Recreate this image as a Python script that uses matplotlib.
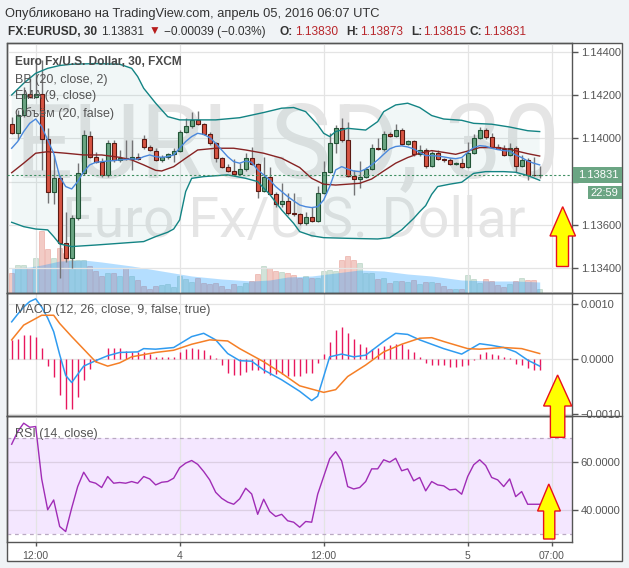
import matplotlib
matplotlib.use('Agg')
import matplotlib.pyplot as plt
from matplotlib.patches import Rectangle, Polygon
from matplotlib.lines import Line2D
import numpy as np

W, H, DPI = 629, 568, 100
plt.rcParams['font.family'] = ['Liberation Sans', 'DejaVu Sans']

# ---- FX:EURUSD 30 min bars ----
opens = [1.14066, 1.14023, 1.14108, 1.14203, 1.14192, 1.14203, 1.13995, 1.13754, 1.13818, 1.13515,
         1.13446, 1.13630, 1.13841, 1.14012, 1.13915, 1.13892, 1.13831, 1.13977, 1.13900, 1.13908,
         1.13905, 1.13915, 1.13995, 1.13958, 1.13943, 1.13900, 1.13915, 1.13926, 1.13943, 1.14031,
         1.14057, 1.14085, 1.14066, 1.14020, 1.13977, 1.13908, 1.13869, 1.13849, 1.13835, 1.13857,
         1.13908, 1.13880, 1.13757, 1.13823, 1.13743, 1.13697, 1.13709, 1.13654, 1.13649, 1.13607,
         1.13635, 1.13620, 1.13746, 1.13843, 1.13977, 1.14046, 1.13992, 1.13826, 1.13811, 1.13820,
         1.13857, 1.13954, 1.13949, 1.14018, 1.14012, 1.14038, 1.13972, 1.13988, 1.13926, 1.13946,
         1.13872, 1.13931, 1.13903, 1.13898, 1.13881, 1.13886, 1.13868, 1.13931, 1.14000, 1.14037,
         1.14008, 1.13958, 1.13952, 1.13923, 1.13957, 1.13874, 1.13900, 1.13831, 1.13830]
highs = [1.14100, 1.14131, 1.14239, 1.14277, 1.14370, 1.14362, 1.14046, 1.13923, 1.13831, 1.13661,
         1.13646, 1.13885, 1.14038, 1.14034, 1.13938, 1.13908, 1.13992, 1.13992, 1.13946, 1.13992,
         1.13992, 1.13931, 1.14015, 1.13969, 1.13954, 1.13923, 1.13931, 1.13954, 1.14038, 1.14092,
         1.14123, 1.14126, 1.14072, 1.14028, 1.13985, 1.13915, 1.13880, 1.13903, 1.13885, 1.13931,
         1.13958, 1.13885, 1.13915, 1.13866, 1.13754, 1.13795, 1.13746, 1.13746, 1.13654, 1.13661,
         1.13684, 1.13780, 1.13895, 1.14023, 1.14062, 1.14092, 1.14077, 1.13854, 1.13895, 1.13869,
         1.13974, 1.14000, 1.14035, 1.14028, 1.14065, 1.14046, 1.13992, 1.13992, 1.13969, 1.13954,
         1.13941, 1.13946, 1.13911, 1.13908, 1.13892, 1.13908, 1.13985, 1.14020, 1.14054, 1.14046,
         1.14023, 1.13972, 1.13969, 1.13977, 1.13965, 1.13923, 1.13908, 1.13915, 1.13873]
lows = [1.14018, 1.13992, 1.14100, 1.14185, 1.14185, 1.13854, 1.13700, 1.13695, 1.13353, 1.13430,
        1.13400, 1.13623, 1.13831, 1.13908, 1.13885, 1.13823, 1.13823, 1.13892, 1.13892, 1.13900,
        1.13854, 1.13900, 1.13952, 1.13941, 1.13895, 1.13889, 1.13905, 1.13892, 1.13938, 1.14023,
        1.14049, 1.14062, 1.14015, 1.13969, 1.13892, 1.13865, 1.13846, 1.13831, 1.13831, 1.13849,
        1.13877, 1.13723, 1.13751, 1.13738, 1.13684, 1.13684, 1.13646, 1.13643, 1.13600, 1.13600,
        1.13615, 1.13615, 1.13741, 1.13838, 1.13934, 1.13985, 1.13823, 1.13738, 1.13772, 1.13815,
        1.13852, 1.13945, 1.13941, 1.14008, 1.14006, 1.13969, 1.13969, 1.13920, 1.13920, 1.13861,
        1.13866, 1.13898, 1.13892, 1.13877, 1.13877, 1.13861, 1.13865, 1.13926, 1.13995, 1.13997,
        1.13954, 1.13949, 1.13920, 1.13917, 1.13846, 1.13866, 1.13808, 1.13828, 1.13815]
closes = [1.14023, 1.14108, 1.14203, 1.14192, 1.14203, 1.13995, 1.13754, 1.13818, 1.13515, 1.13446,
          1.13630, 1.13841, 1.14015, 1.13915, 1.13892, 1.13831, 1.13977, 1.13900, 1.13908, 1.13905,
          1.13915, 1.13903, 1.13958, 1.13946, 1.13900, 1.13915, 1.13926, 1.13943, 1.14031, 1.14057,
          1.14085, 1.14066, 1.14020, 1.13977, 1.13908, 1.13869, 1.13849, 1.13835, 1.13857, 1.13908,
          1.13880, 1.13757, 1.13823, 1.13743, 1.13697, 1.13709, 1.13654, 1.13649, 1.13607, 1.13635,
          1.13620, 1.13746, 1.13843, 1.13977, 1.14046, 1.13992, 1.13826, 1.13811, 1.13820, 1.13857,
          1.13954, 1.13949, 1.14018, 1.14012, 1.14038, 1.13972, 1.13988, 1.13926, 1.13946, 1.13872,
          1.13931, 1.13903, 1.13898, 1.13881, 1.13886, 1.13868, 1.13931, 1.14000, 1.14037, 1.14008,
          1.13958, 1.13952, 1.13923, 1.13957, 1.13874, 1.13900, 1.13831, 1.13829, 1.13831]

# tick volume (chart units)
volume = [20, 28, 28, 25, 35, 62, 44, 35, 45, 40,
          33, 33, 33, 27, 22, 17, 20, 20, 17, 25,
          17, 13, 7, 4, 7, 8, 9, 6, 17, 14,
          11, 15, 10, 9, 10, 7, 4, 9, 7, 10,
          12, 19, 27, 25, 22, 21, 20, 18, 15, 17,
          15, 15, 22, 23, 22, 33, 37, 33, 30, 20,
          20, 14, 15, 10, 12, 12, 11, 13, 9, 11,
          11, 10, 7, 4, 4, 4, 18, 14, 10, 14,
          12, 8, 6, 9, 12, 15, 13, 13, 4]
vol_ma_idx = [0, 3, 5, 8, 12, 15, 20, 25, 30, 35, 40, 43, 46, 50, 54, 58, 62, 66, 70, 75, 80, 84, 88]
vol_ma = [25, 26, 28, 32, 33, 31, 27, 22, 17, 14, 12, 13, 16, 17, 20, 23, 22, 19, 17, 13, 12, 12, 11]

# Bollinger bands (20, close, 2)
bb_up_idx = [0, 2, 4, 6, 8, 10, 14, 18, 20, 21, 22, 24, 26, 28, 34, 38, 42, 45, 47, 49, 51, 52, 53,
             54, 56, 59, 61, 62, 64, 66, 68, 70, 72, 75, 77, 80, 83, 86, 88]
bb_up = [1.14200, 1.14254, 1.14300, 1.14323, 1.14336, 1.14342, 1.14345, 1.14342, 1.14323, 1.14285,
         1.14231, 1.14162, 1.14100, 1.14085, 1.14085, 1.14095, 1.14119, 1.14139, 1.14142, 1.14123,
         1.14062, 1.14023, 1.14008, 1.14031, 1.14046, 1.14038, 1.14077, 1.14123, 1.14154, 1.14162,
         1.14142, 1.14105, 1.14089, 1.14083, 1.14069, 1.14065, 1.14052, 1.14035, 1.14031]
bb_lo_idx = [0, 2, 4, 6, 7, 8, 10, 14, 18, 22, 24, 26, 27, 28, 29, 30, 32, 36, 39, 41, 43, 45, 47,
             48, 50, 52, 56, 61, 63, 65, 67, 68, 69, 70, 71, 73, 75, 77, 79, 82, 84, 86, 88]
bb_lo = [1.13612, 1.13592, 1.13581, 1.13577, 1.13546, 1.13512, 1.13500, 1.13507, 1.13515, 1.13523,
         1.13546, 1.13566, 1.13581, 1.13623, 1.13754, 1.13815, 1.13823, 1.13831, 1.13815, 1.13800,
         1.13741, 1.13669, 1.13607, 1.13569, 1.13550, 1.13541, 1.13538, 1.13535, 1.13541, 1.13577,
         1.13630, 1.13661, 1.13689, 1.13741, 1.13777, 1.13788, 1.13797, 1.13838, 1.13846, 1.13846,
         1.13843, 1.13828, 1.13806]
bb_mid_idx = [0, 2, 4, 6, 9, 12, 15, 18, 20, 22, 24, 25, 27, 29, 31, 34, 37, 39, 42, 45, 48, 50, 52,
              54, 56, 58, 60, 62, 64, 66, 68, 70, 72, 74, 76, 78, 81, 83, 86, 88]
bb_mid = [1.13841, 1.13885, 1.13931, 1.13938, 1.13931, 1.13923, 1.13923, 1.13912, 1.13900, 1.13877,
          1.13852, 1.13849, 1.13869, 1.13908, 1.13946, 1.13954, 1.13954, 1.13946, 1.13931, 1.13908,
          1.13865, 1.13815, 1.13788, 1.13784, 1.13788, 1.13792, 1.13812, 1.13849, 1.13885, 1.13911,
          1.13931, 1.13943, 1.13935, 1.13926, 1.13941, 1.13957, 1.13957, 1.13949, 1.13929, 1.13918]

# EMA (9, close), one value per bar
ema = [1.13954, 1.13985, 1.14031, 1.14069, 1.14089, 1.14054, 1.13992, 1.13931, 1.13823, 1.13777,
       1.13766, 1.13800, 1.13846, 1.13877, 1.13889, 1.13892, 1.13895, 1.13897, 1.13900, 1.13902,
       1.13905, 1.13903, 1.13915, 1.13923, 1.13915, 1.13912, 1.13915, 1.13923, 1.13954, 1.13985,
       1.14008, 1.14023, 1.14018, 1.14003, 1.13977, 1.13946, 1.13915, 1.13892, 1.13885, 1.13895,
       1.13889, 1.13854, 1.13831, 1.13808, 1.13777, 1.13754, 1.13731, 1.13711, 1.13692, 1.13684,
       1.13680, 1.13684, 1.13715, 1.13777, 1.13854, 1.13869, 1.13858, 1.13849, 1.13846, 1.13858,
       1.13877, 1.13900, 1.13926, 1.13951, 1.13962, 1.13965, 1.13960, 1.13951, 1.13935, 1.13920,
       1.13920, 1.13918, 1.13914, 1.13909, 1.13906, 1.13911, 1.13935, 1.13957, 1.13966, 1.13963,
       1.13954, 1.13948, 1.13943, 1.13941, 1.13923, 1.13911, 1.13895, 1.13885, 1.13877]

# MACD (12, 26, close, 9)
macd_idx = [0, 1, 2, 3, 4, 5, 6, 7, 8, 9, 10, 12, 14, 16, 18, 21, 22, 24, 27, 30, 32, 34, 36, 38, 40,
            42, 45, 48, 50, 51, 53, 55, 57, 59, 62, 64, 66, 68, 72, 75, 78, 80, 82, 84, 86, 88]
macd = [0.00068, 0.00082, 0.00095, 0.00105, 0.00110, 0.00095, 0.00075, 0.00050, 0.00008, -0.00030,
        -0.00043, -0.00013, -0.00003, 0.00006, 0.00012, 0.00013, 0.00019, 0.00018, 0.00021, 0.00041,
        0.00047, 0.00035, 0.00010, -0.00003, -0.00004, -0.00020, -0.00038, -0.00059, -0.00076, -0.00068,
        0.00004, 0.00009, 0.00004, 0.00007, 0.00032, 0.00047, 0.00045, 0.00035, 0.00019, 0.00009,
        0.00028, 0.00025, 0.00021, 0.00013, -0.00002, -0.00013]
signal_idx = [0, 2, 5, 7, 8, 10, 12, 14, 16, 18, 20, 24, 27, 30, 33, 36, 38, 42, 45, 48, 52, 54, 56,
              59, 62, 65, 68, 70, 72, 76, 78, 82, 85, 88]
signal = [0.00035, 0.00062, 0.00080, 0.00080, 0.00065, 0.00041, 0.00018, -0.00005, -0.00013, -0.00007,
          0.00004, 0.00012, 0.00016, 0.00027, 0.00035, 0.00033, 0.00019, -0.00005, -0.00026, -0.00049,
          -0.00061, -0.00056, -0.00032, -0.00011, 0.00013, 0.00027, 0.00038, 0.00039, 0.00032, 0.00019,
          0.00018, 0.00021, 0.00019, 0.00010]
hist = [0.00035, 0.00036, 0.00044, 0.00044, 0.00041, 0.00021, -0.00012, -0.00032, -0.00065, -0.00092,
        -0.00092, -0.00070, -0.00038, -0.00018, -0.00005, 0.00000, 0.00021, 0.00021, 0.00021, 0.00015,
        0.00012, 0.00013, 0.00012, 0.00010, 0.00004, 0.00003, 0.00003, 0.00004, 0.00012, 0.00018,
        0.00021, 0.00019, 0.00016, 0.00007, 0.00001, -0.00011, -0.00025, -0.00029, -0.00029, -0.00023,
        -0.00020, -0.00020, -0.00026, -0.00029, -0.00027, -0.00027, -0.00031, -0.00031, -0.00031, -0.00026,
        -0.00025, -0.00008, 0.00010, 0.00032, 0.00053, 0.00059, 0.00048, 0.00036, 0.00027, 0.00022,
        0.00018, 0.00021, 0.00024, 0.00025, 0.00028, 0.00028, 0.00019, 0.00012, 0.00004, -0.00007,
        -0.00011, -0.00011, -0.00011, -0.00015, -0.00015, -0.00013, -0.00011, -0.00002, 0.00009, 0.00012,
        0.00009, 0.00007, 0.00004, 0.00001, -0.00009, -0.00011, -0.00017, -0.00020, -0.00020]

# RSI (14, close)
rsi = [67.5, 72.8, 76.3, 74.6, 74.9, 53.0, 40.1, 44.2, 33.1, 31.0,
       40.8, 49.8, 55.8, 51.9, 51.2, 49.4, 54.0, 51.2, 51.5, 51.2,
       51.9, 51.2, 54.0, 53.0, 50.5, 51.6, 51.9, 53.3, 57.7, 59.6,
       60.7, 59.1, 56.1, 52.6, 47.4, 44.9, 43.3, 42.4, 44.7, 49.1,
       46.7, 38.2, 44.5, 39.4, 37.3, 38.2, 35.5, 34.9, 32.8, 35.2,
       34.9, 46.6, 54.0, 61.4, 64.4, 60.5, 49.8, 48.8, 49.4, 51.9,
       57.2, 57.2, 61.0, 60.0, 61.6, 56.4, 57.2, 52.2, 53.6, 48.0,
       51.9, 50.5, 50.1, 48.4, 48.7, 46.6, 54.0, 58.9, 61.0, 58.6,
       53.6, 52.6, 49.8, 53.0, 45.6, 47.7, 42.4, 42.4, 42.4]

# time axis: bar index of each label
time_tick_idx = [4, 28, 52, 76, 90]
time_tick_lbl = ['12:00', '4', '12:00', '5', '07:00']
price_ticks = [1.134, 1.136, 1.138, 1.140, 1.142, 1.144]
macd_ticks = [-0.001, 0.0, 0.001]
rsi_ticks = [40, 60]

UP, UP_EDGE = '#6ba583', '#225437'
DOWN, DOWN_EDGE = '#d75442', '#5b1a13'
WICK = '#737375'
AXC = '#555555'
GRID = '#e4e4e4'
XLIM = (-0.83, 93.47)


def fig_rect(x0, y0, x1, y1):
    # pixel box measured from the top-left -> figure fraction
    return [x0 / W, 1 - y1 / H, (x1 - x0) / W, (y1 - y0) / H]


def fx(x):
    return x / W


def fy(y):
    return 1 - y / H


def style_panel(ax):
    ax.set_xlim(*XLIM)
    ax.set_facecolor('none')
    for s in ax.spines.values():
        s.set_color(AXC)
        s.set_linewidth(1)
    ax.yaxis.tick_right()
    ax.tick_params(axis='y', direction='out', length=4, width=1, color=AXC,
                   labelsize=8, labelcolor=AXC, pad=2)
    ax.set_xticks(time_tick_idx)
    ax.grid(True, color=GRID, lw=0.9)
    ax.set_axisbelow(True)


def draw_candles(ax):
    x = np.arange(len(closes))
    o, h, l, c = (np.array(v) for v in (opens, highs, lows, closes))
    up = c >= o
    ax.vlines(x, l, h, color=WICK, lw=1, zorder=3)
    lo = np.minimum(o, c)
    bh = np.maximum(np.abs(c - o), 0.00001)
    ax.bar(x[up], bh[up], bottom=lo[up], width=0.72, color=UP, edgecolor=UP_EDGE, lw=0.8, zorder=4)
    ax.bar(x[~up], bh[~up], bottom=lo[~up], width=0.72, color=DOWN, edgecolor=DOWN_EDGE, lw=0.8, zorder=4)


fig = plt.figure(figsize=(W / DPI, H / DPI), dpi=DPI, facecolor='#f0f3f6')

# outer white frame
fig.patches.append(Rectangle((fx(6.7), fy(561)), fx(622) - fx(6.7), fy(43) - fy(561),
                             transform=fig.transFigure, fc='white', ec=AXC, lw=1, zorder=-5))

# ---------------- main price panel ----------------
axv = fig.add_axes(fig_rect(6.7, 43, 572.5, 293))
ax = fig.add_axes(fig_rect(6.7, 43, 572.5, 293), sharex=axv)
axv.set_zorder(1)
ax.set_zorder(2)
axv.patch.set_visible(False)
for s in axv.spines.values():
    s.set_visible(False)
axv.set_ylim(0, 250)
xs = np.arange(len(volume))
vol_col = [UP if c >= o else DOWN for o, c in zip(opens, closes)]
axv.bar(xs, volume, width=0.85, color=vol_col, alpha=0.3, edgecolor=vol_col, lw=0.6)
axv.fill_between(vol_ma_idx, 0, vol_ma, color='#1e9bff', alpha=0.33, lw=0)

style_panel(ax)
ax.set_ylim(1.132855, 1.14440)
ax.set_yticks(price_ticks)
# the 1.13800 label sits under the last-price tag, so it is left blank
ax.set_yticklabels(['' if abs(p - 1.138) < 1e-9 else '%.5f' % p for p in price_ticks])
ax.tick_params(axis='x', length=0, labelbottom=False)
# volume axis shares x: keep its ticks and labels hidden
axv.tick_params(axis='both', length=0, labelbottom=False, labelleft=False,
                labelright=False, left=False, right=False, bottom=False)

# watermark
ax.text(0.497, 0.464, 'EURUSD, 30', transform=ax.transAxes, ha='center', va='baseline',
        fontsize=74, family='Roboto', color='black', alpha=0.1, zorder=0)
ax.text(0.507, 0.224, 'Euro Fx/U.S. Dollar', transform=ax.transAxes, ha='center', va='baseline',
        fontsize=40, family='Roboto', color='black', alpha=0.1, zorder=0)

ax.fill(np.r_[bb_up_idx, bb_lo_idx[::-1]], np.r_[bb_up, bb_lo[::-1]],
        color='#198787', alpha=0.06, lw=0, zorder=1)
draw_candles(ax)
ax.plot(bb_up_idx, bb_up, color='#138484', lw=1, zorder=5)
ax.plot(bb_lo_idx, bb_lo, color='#138484', lw=1, zorder=5)
ax.plot(bb_mid_idx, bb_mid, color='#872323', lw=1, zorder=5)
ax.plot(np.arange(len(ema)), ema, color='#4a88dc', lw=1, zorder=5)
ax.axhline(closes[-1], color='#3f8f62', lw=0.8, ls=(0, (2, 2)), zorder=6)

# ---------------- MACD panel ----------------
axm = fig.add_axes(fig_rect(6.7, 293, 572.5, 416), sharex=ax)
style_panel(axm)
axm.set_ylim(-0.001042, 0.001207)
axm.set_yticks(macd_ticks)
axm.set_yticklabels(['\u22120.0010', '0.0000', '0.0010'])
axm.tick_params(axis='x', length=0, labelbottom=False)
axm.vlines(np.arange(len(hist)), 0, hist, color='#e8175d', lw=1, zorder=3)
axm.plot(macd_idx, macd, color='#2f9bf0', lw=1.1, zorder=4)
axm.plot(signal_idx, signal, color='#f57f26', lw=1.1, zorder=4)

# ---------------- RSI panel ----------------
axr = fig.add_axes(fig_rect(6.7, 416, 572.5, 542.3), sharex=ax)
style_panel(axr)
axr.set_ylim(26.5, 79.3)
axr.set_yticks(rsi_ticks)
axr.set_yticklabels(['%.4f' % t for t in rsi_ticks])
axr.grid(True, axis='y', color='#dccfe3', lw=0.9)
axr.axhspan(30, 70, color='#9915ff', alpha=0.1, lw=0, zorder=0)
axr.axhline(70, color='#b9a9c2', lw=0.9, ls=(0, (3, 3)), zorder=1)
axr.axhline(30, color='#b9a9c2', lw=0.9, ls=(0, (3, 3)), zorder=1)
axr.plot(np.arange(len(rsi)), rsi, color='#a02cb6', lw=1, zorder=3)
axr.set_xticklabels(time_tick_lbl)
axr.tick_params(axis='x', direction='out', length=3, width=1, color=AXC,
                labelsize=7.5, labelcolor=AXC, pad=3)

# panel separators run across the price scale too
for yy in (293, 416):
    fig.lines.append(Line2D([fx(6.7), fx(622)], [fy(yy), fy(yy)], transform=fig.transFigure,
                            color=AXC, lw=1, zorder=20))

# ---------------- texts ----------------
fig.text(fx(4.8), fy(16.7), 'Опубликовано на TradingView.com, апрель 05, 2016 06:07 UTC',
         fontsize=9.3, color='#333333', va='baseline')
RED = '#b8262b'
hdr = [(8, 'FX:EURUSD, 30', 'bold', '#333333'), (101, '1.13831', 'normal', '#333333'),
       (149, '\u25bc', 'normal', '#b71c1c'), (164, '\u22120.00039 (\u22120.03%)', 'normal', '#333333'),
       (280, 'O:', 'bold', '#333333'), (295, '1.13830', 'normal', RED),
       (346, 'H:', 'bold', '#333333'), (360, '1.13873', 'normal', RED),
       (411, 'L:', 'bold', '#333333'), (423, '1.13815', 'normal', RED),
       (469, 'C:', 'bold', '#333333'), (483, '1.13831', 'normal', RED)]
for x0, s, wt, col in hdr:
    fig.text(fx(x0), fy(35), s, fontsize=8.6, fontweight=wt, color=col, va='baseline')

fig.text(fx(15), fy(65), 'Euro Fx/U.S. Dollar, 30, FXCM', fontsize=8.6, fontweight='bold',
         color='#4a4a4a', va='baseline', zorder=30)
for yb, s in ((82.5, 'BB (20, close, 2)'), (99.5, 'EMA (9, close)'), (116.5, 'Объём (20, false)')):
    fig.text(fx(15), fy(yb), s, fontsize=9, color='#555555', va='baseline', zorder=30)
fig.text(fx(15), fy(312.7), 'MACD (12, 26, close, 9, false, true)', fontsize=9, color='#555555',
         va='baseline', zorder=30)
fig.text(fx(15), fy(436.7), 'RSI (14, close)', fontsize=9, color='#555555', va='baseline', zorder=30)

# last price tag + countdown on the price scale
yc = H - ax.transData.transform((0, closes[-1]))[1]
fig.patches.append(Rectangle((fx(573), fy(yc + 8)), fx(622) - fx(573), fy(yc - 8) - fy(yc + 8),
                             transform=fig.transFigure, fc='#6ba583', ec='none', zorder=25))
fig.text(fx(578), fy(yc), '%.5f' % closes[-1], fontsize=8, color='white', va='center', zorder=26)
fig.patches.append(Rectangle((fx(588), fy(yc + 24.5)), fx(622) - fx(588), fy(yc + 11.5) - fy(yc + 24.5),
                             transform=fig.transFigure, fc='#6ba583', ec='none', zorder=25))
fig.text(fx(618), fy(yc + 18), '22:59', fontsize=8, color='white', va='center', ha='right', zorder=26)


# yellow arrows drawn over the chart
def up_arrow(tip_x, tip_y, head_y, head_l, head_r, sh_l, sh_r, bottom):
    pts = [(sh_l, bottom), (sh_l, head_y), (head_l, head_y), (tip_x, tip_y),
           (head_r, head_y), (sh_r, head_y), (sh_r, bottom)]
    fig.patches.append(Polygon([(fx(a), fy(b)) for a, b in pts], closed=True,
                               transform=fig.transFigure, fc='#ffff00', ec='#e8101e', lw=1, zorder=40))


up_arrow(562.7, 206.7, 236, 550, 575.5, 556.5, 568.5, 266.5)
up_arrow(557.6, 375, 406, 543.6, 571.7, 550.4, 564.8, 437.3)
up_arrow(548.8, 484, 511, 537.6, 560.4, 543.6, 554.8, 539)

fig.savefig('out.png', dpi=DPI, facecolor=fig.get_facecolor())
